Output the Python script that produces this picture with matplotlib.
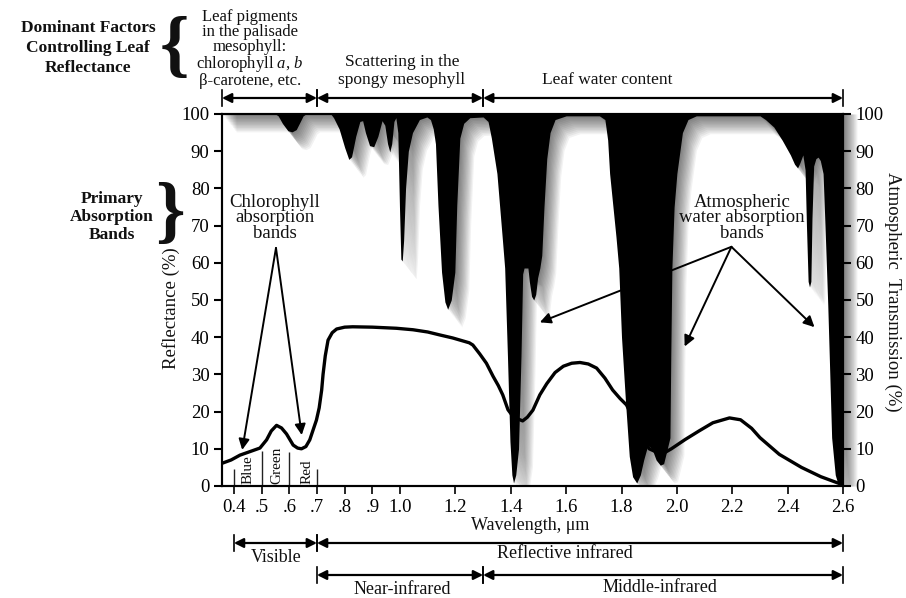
import numpy as np
import matplotlib
matplotlib.use('Agg')
import matplotlib.pyplot as plt
import matplotlib.transforms as mtransforms

plt.rcParams['font.family'] = ['Liberation Serif', 'DejaVu Serif']
plt.rcParams['mathtext.fontset'] = 'custom'
plt.rcParams['mathtext.rm'] = 'Liberation Serif'
plt.rcParams['mathtext.it'] = 'Liberation Serif:italic'

# atmospheric transmission (%) vs wavelength (um)
trans_wl = np.array([
    0.357, 0.55, 0.56, 0.575, 0.595, 0.61, 0.625, 0.64, 0.65, 0.66, 0.75,
    0.76, 0.78, 0.80, 0.815, 0.825, 0.84, 0.855, 0.865, 0.875, 0.89, 0.905,
    0.92, 0.935, 0.945, 0.955, 0.963, 0.97, 0.978, 0.985, 0.992, 0.998,
    1.003, 1.008, 1.013, 1.02, 1.03, 1.045, 1.07, 1.097, 1.11, 1.12, 1.128,
    1.137, 1.15, 1.162, 1.172, 1.185, 1.198, 1.205, 1.216, 1.23, 1.252,
    1.30, 1.318, 1.33, 1.35, 1.37, 1.378, 1.388, 1.397, 1.404, 1.41, 1.418,
    1.428, 1.437, 1.443, 1.448, 1.462, 1.467, 1.475, 1.483, 1.49, 1.497,
    1.505, 1.512, 1.52, 1.53, 1.542, 1.56, 1.60, 1.72, 1.74, 1.75, 1.757,
    1.78, 1.79, 1.80, 1.815, 1.828, 1.84, 1.855, 1.868, 1.88, 1.895, 1.91,
    1.925, 1.94, 1.952, 1.962, 1.975, 1.978, 1.982, 1.99, 2.0, 2.02, 2.04,
    2.07, 2.30, 2.32, 2.35, 2.38, 2.41, 2.425, 2.436, 2.445, 2.455, 2.463,
    2.468, 2.474, 2.479, 2.484, 2.488, 2.494, 2.502, 2.51, 2.518, 2.528,
    2.535, 2.545, 2.559, 2.572, 2.58, 2.6])
trans_pct = np.array([
    100, 100, 99.5, 97.5, 95.5, 95.2, 95.8, 98, 99.5, 100, 100,
    99, 96, 91, 87.8, 88.5, 94, 98, 98.2, 95, 91.5, 91.2,
    94, 98.2, 97, 92, 89.8, 92, 98, 99, 95, 75,
    61, 60.5, 66, 80, 90, 95, 98.5, 99.2, 98.5, 96, 92,
    75.5, 57.5, 49.5, 47.5, 50, 57.5, 75.5, 93.5, 97.5, 99,
    99.2, 98, 93.5, 84, 66, 58.6, 35, 12, 3, 0.8, 3,
    10, 35, 57, 58.6, 58.6, 55, 51, 50, 51.5, 56,
    58.6, 62, 75, 88, 95, 98.5, 99.5, 99.5, 98.5, 93, 84,
    67, 58.6, 40, 22, 8, 2.5, 0.8, 3, 7, 11, 10,
    7, 5.6, 6, 9, 13, 35, 58.6, 75, 84, 95, 98.5,
    99.5, 99.5, 98.5, 96.5, 93, 89, 86.5, 85.5, 87, 89, 85,
    70, 55, 53.5, 55, 72, 86, 88, 88.4, 87.5, 84,
    70, 48.6, 13, 3, 1, 0])

# leaf reflectance (%) vs wavelength (um)
refl_wl = [0.357, 0.39, 0.422, 0.46, 0.494, 0.518, 0.535, 0.554, 0.572,
           0.59, 0.614, 0.63, 0.644, 0.66, 0.674, 0.688, 0.698, 0.708,
           0.717, 0.722, 0.73, 0.74, 0.755, 0.771, 0.8, 0.829, 0.9, 0.987,
           1.047, 1.1, 1.144, 1.19, 1.227, 1.25, 1.263, 1.288, 1.312, 1.336,
           1.355, 1.371, 1.39, 1.41, 1.443, 1.46, 1.48, 1.505, 1.53, 1.56,
           1.59, 1.62, 1.65, 1.68, 1.71, 1.74, 1.768, 1.795, 1.818, 1.85,
           1.9, 1.945, 1.98, 2.03, 2.08, 2.13, 2.19, 2.23, 2.27, 2.30, 2.37,
           2.45, 2.52, 2.6]
refl_pct = [6.1, 7.0, 8.3, 9.3, 10.2, 12.4, 14.8, 16.3, 15.6,
            14.0, 11.0, 10.2, 10.0, 10.6, 12.4, 15.5, 17.7, 21.0,
            25.8, 30.0, 35.0, 39.2, 41.2, 42.2, 42.7, 42.8, 42.7, 42.4,
            42.0, 41.4, 40.6, 39.8, 39.0, 38.5, 37.9, 35.5, 33.0, 29.5,
            27.0, 24.5, 20.5, 18.5, 17.5, 18.5, 20.4, 24.5, 27.5, 30.5,
            32.2, 33.0, 33.2, 32.8, 31.7, 29.0, 25.8, 23.5, 21.8, 17.0,
            10.0, 8.5, 10.0, 12.5, 14.8, 17.0, 18.3, 17.8, 15.5, 13.0, 8.5,
            5.0, 2.5, 0.3]

xtick_vals = [0.4, 0.5, 0.6, 0.7, 0.8, 0.9, 1.0, 1.2, 1.4, 1.6, 1.8, 2.0,
              2.2, 2.4, 2.6]
xtick_labels = ['0.4', '.5', '.6', '.7', '.8', '.9', '1.0', '1.2', '1.4',
                '1.6', '1.8', '2.0', '2.2', '2.4', '2.6']
ytick_vals = list(range(0, 101, 10))

# colour bands at the visible end
band_names = ['Blue', 'Green', 'Red']
band_centres = [0.45, 0.555, 0.664]
band_edges = [0.4, 0.5, 0.6, 0.7]
band_edge_tops = [4.6, 9.5, 9.2, 4.6]

# spans above and below the plot (wavelength, um)
top_bounds = [0.357, 0.7, 1.3, 2.6]
bottom_row1 = [0.4, 0.7, 2.6]
bottom_row2 = [0.7, 1.3, 2.6]

# arrows: apex -> targets (wavelength, %)
chl_apex = (0.552, 64)
chl_targets = [(0.43, 9.7), (0.645, 13.7)]
water_apex = (2.197, 64.3)
water_targets = [(1.505, 44), (2.028, 37.5), (2.497, 42.7)]

W, H = 906, 598
fig = plt.figure(figsize=(W / 100, H / 100), dpi=100)
ax = fig.add_axes([222 / W, 1 - 486 / H, (843 - 222) / W, (486 - 114) / H])
ax.set_xlim(0.357, 2.6)
ax.set_ylim(0, 100)


def ftext(x, y, s, **kw):
    kw.setdefault('ha', 'center')
    kw.setdefault('va', 'center')
    kw.setdefault('color', '#111111')
    return fig.text(x / W, 1 - y / H, s, **kw)


# soft shadow of the absorption fill
for i in range(1, 13):
    ax.fill_between(trans_wl + i * 0.0042, np.maximum(trans_pct - i * 0.4, 0), 100,
                    color='k', alpha=0.05, lw=0, zorder=1, clip_on=False)
ax.fill_between(trans_wl, trans_pct, 100, color='k', lw=0, zorder=2)

ax.plot(refl_wl, refl_pct, color='k', lw=2.4, zorder=3, solid_capstyle='round')

# blue / green / red strips
ax.vlines(band_edges, 0, band_edge_tops, color='#222222', lw=1.0, zorder=3)
for name, c in zip(band_names, band_centres):
    ax.text(c, 0.6, name, rotation=90, ha='center', va='bottom', fontsize=11,
            color='#111111', zorder=3)

# axes styling
for s in ax.spines.values():
    s.set_linewidth(1.5)
ax.set_xticks(xtick_vals)
ax.set_xticklabels(xtick_labels)
ax.set_yticks(ytick_vals)
ax.tick_params(axis='x', direction='out', length=6, width=1.2, labelsize=13.5, pad=3)
ax.tick_params(axis='y', direction='out', length=6, width=1.5, labelsize=13.5, pad=3)

ax2 = ax.twinx()
ax2.set_ylim(0, 100)
ax2.set_yticks(ytick_vals)
ax2.tick_params(axis='y', direction='out', length=6, width=1.5, labelsize=13.5, pad=3)
for s in ax2.spines.values():
    s.set_linewidth(1.5)

# annotation arrows
arrow_kw = dict(arrowstyle='-|>', color='k', lw=1.4, mutation_scale=16,
                shrinkA=0, shrinkB=0)
for t in chl_targets:
    ax.annotate('', xy=t, xytext=chl_apex, arrowprops=arrow_kw, zorder=4)
for t in water_targets:
    ax.annotate('', xy=t, xytext=water_apex, arrowprops=arrow_kw, zorder=4)

ftext(275, 218, 'Chlorophyll\nabsorption\nbands', fontsize=13.5, linespacing=0.9)
ftext(742, 218, 'Atmospheric\nwater absorption\nbands', fontsize=13.5, linespacing=0.9)

# span arrows
bt = mtransforms.blended_transform_factory(ax.transData, fig.transFigure)


def span(x1, x2, ypx):
    y = 1 - ypx / H
    ax.annotate('', xy=(x2, y), xytext=(x1, y), xycoords=bt, textcoords=bt,
                arrowprops=dict(arrowstyle='<|-|>', color='k', lw=1.6,
                                mutation_scale=14, shrinkA=0, shrinkB=0),
                annotation_clip=False)
    for x in (x1, x2):
        ax.plot([x, x], [y - 0.013, y + 0.013], transform=bt, color='k',
                lw=1.2, clip_on=False)


for a, b in zip(top_bounds[:-1], top_bounds[1:]):
    span(a, b, 98)
for a, b in zip(bottom_row1[:-1], bottom_row1[1:]):
    span(a, b, 543)
for a, b in zip(bottom_row2[:-1], bottom_row2[1:]):
    span(a, b, 575)

# top labels
ftext(88, 48, 'Dominant Factors\nControlling Leaf\nReflectance', fontsize=12.5,
      fontweight='bold', linespacing=1.35)
ftext(174, 50, '{', fontsize=54, fontweight='bold')
ftext(250, 49, 'Leaf pigments\nin the palisade\nmesophyll:\nchlorophyll $a$, $b$\n'
      '\u03b2-carotene, etc.', fontsize=12, linespacing=0.93)
ftext(402, 71, 'Scattering in the\nspongy mesophyll', fontsize=12.5, linespacing=1.1)
ftext(607, 80, 'Leaf water content', fontsize=12.5)

# left labels
ftext(112, 217, 'Primary\nAbsorption\nBands', fontsize=12.5, fontweight='bold',
      linespacing=1.2)
ftext(170, 216, '}', fontsize=54, fontweight='bold')
ftext(171, 308, 'Reflectance (%)', fontsize=13.5, rotation=90)
ftext(893, 292, 'Atmospheric  Transmission (%)', fontsize=13.5, rotation=270)

# bottom labels
ftext(530, 525, 'Wavelength, \u03bcm', fontsize=13)
ftext(276, 558, 'Visible', fontsize=13)
ftext(565, 554, 'Reflective infrared', fontsize=13)
ftext(402, 590, 'Near-infrared', fontsize=13)
ftext(660, 587, 'Middle-infrared', fontsize=13)

fig.savefig('out.png', dpi=100)
